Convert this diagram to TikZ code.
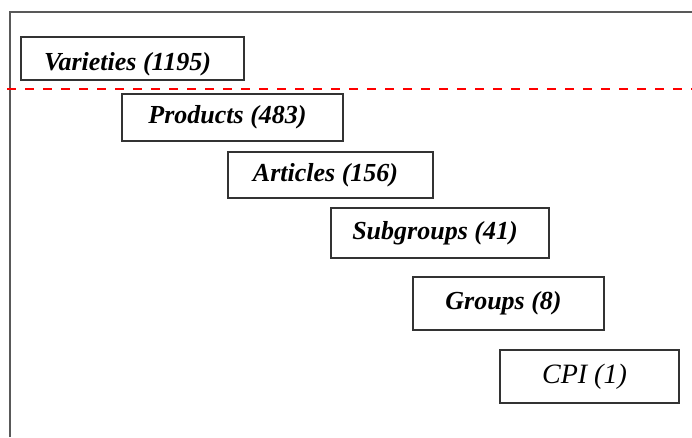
\documentclass[tikz,border=0pt]{standalone}
\usepackage{fontspec}
\setmainfont{Liberation Serif}
\usepackage{tikz}
\tikzset{level/.style={shape=rectangle, draw=black!80, line width=1.2pt, minimum height=46pt, inner sep=0pt, font=\fontsize{26}{30}\selectfont\bfseries\itshape, execute at end node=\hspace*{10pt}}}

\begin{document}
\begin{tikzpicture}[x=1pt,y=-1pt]
\useasboundingbox (0,0) rectangle (692,437);
\coordinate (TL) at (10,12);
\coordinate (TR) at (692,12);
\coordinate (BL) at (10,437);
\coordinate (DL) at (7,89);
\coordinate (DR) at (692,89);
\draw[black!65, line width=1.5pt] (BL) -- (TL) -- (TR);
\draw[red, line width=2.5pt, dash pattern=on 9pt off 9pt] (DL) -- (DR);
\node[level, minimum width=223pt, minimum height=43pt, text height=23pt, text depth=0pt](V) at (132.5,58.5) {Varieties (1195)};
\node[level, minimum width=221pt, minimum height=47pt](P) at (232.5,117.5) {Products (483)};
\node[level, minimum width=205pt](A) at (330.5,175) {Articles (156)};
\node[level, minimum width=218pt, minimum height=50pt](S) at (440,233) {Subgroups (41)};
\node[level, minimum width=191pt, minimum height=53pt](G) at (508.5,303.5) {Groups (8)};
\node[level, minimum width=179pt, minimum height=53pt, font=\fontsize{28}{32}\selectfont\itshape](C) at (589.5,376.5) {CPI (1)};
\end{tikzpicture}
\end{document}
